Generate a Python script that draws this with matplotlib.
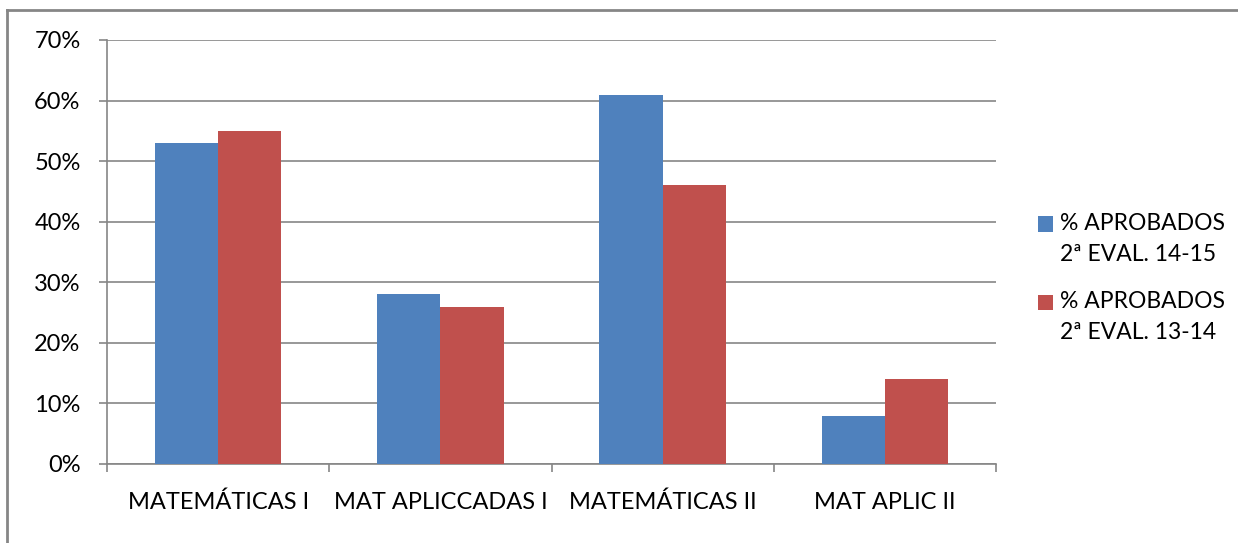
import matplotlib
matplotlib.use("Agg")
import matplotlib.pyplot as plt
from matplotlib.lines import Line2D
from matplotlib.patches import Rectangle
import numpy as np

categories = ["MATEMÁTICAS I", "MAT APLICCADAS I", "MATEMÁTICAS II", "MAT APLIC II"]
series_names = ["% APROBADOS\n2ª EVAL. 14-15", "% APROBADOS\n2ª EVAL. 13-14"]
vals_1415 = [53, 28, 61, 8]
vals_1314 = [55, 26, 46, 14]
yticks = [0, 10, 20, 30, 40, 50, 60, 70]
colors = ["#4F81BD", "#C0504D"]

plt.rcParams['font.family'] = ['Lato', 'DejaVu Sans']
FS = 17

W, H = 1238, 543
fig = plt.figure(figsize=(W / 100, H / 100), dpi=100)
ax = fig.add_axes([107 / W, 1 - 464 / H, (996 - 107) / W, (464 - 40) / H])

x = np.arange(len(categories))
bw = 0.285
ax.bar(x - bw / 2, vals_1415, bw, color=colors[0], zorder=3)
ax.bar(x + bw / 2, vals_1314, bw, color=colors[1], zorder=3)

ax.set_xlim(-0.5, len(categories) - 0.5)
ax.set_ylim(0, 70)
ax.set_yticks(yticks)
ax.set_yticklabels([f"{v}%" for v in yticks])
ax.yaxis.grid(True, color="#868686", linewidth=1.2, zorder=0)
ax.set_axisbelow(True)

for s in ["top", "right"]:
    ax.spines[s].set_visible(False)
for s in ["left", "bottom"]:
    ax.spines[s].set_color("#868686")
    ax.spines[s].set_linewidth(1.2)

ax.set_xticks(np.arange(-0.5, len(categories), 1.0))
ax.set_xticklabels([])
ax.set_xticks(x, minor=True)
ax.set_xticklabels(categories, minor=True)
ax.tick_params(axis="x", which="major", length=6, color="#868686", width=1.2)
ax.tick_params(axis="x", which="minor", length=0, pad=20, labelsize=FS)
ax.tick_params(axis="y", length=6, color="#868686", width=1.2, labelsize=FS, pad=13)

# legend drawn manually (marker aligned with first text line)
leg_y = [224, 302]
for i, (name, c) in enumerate(zip(series_names, colors)):
    yc = leg_y[i]
    fig.add_artist(Rectangle((1038 / W, 1 - (yc + 7.5) / H), 15 / W, 15 / H,
                             transform=fig.transFigure, facecolor=c, edgecolor="none"))
    fig.text(1060 / W, 1 - (yc - 11) / H, name, ha="left", va="top",
             fontsize=16.5, linespacing=1.6)

fig.add_artist(Line2D([6.5 / W, 6.5 / W], [0, 1 - 10 / H], transform=fig.transFigure,
                      color="#868686", linewidth=2))
fig.add_artist(Line2D([6.5 / W, 1], [1 - 10 / H, 1 - 10 / H], transform=fig.transFigure,
                      color="#868686", linewidth=2))

fig.savefig("out.png", dpi=100)
